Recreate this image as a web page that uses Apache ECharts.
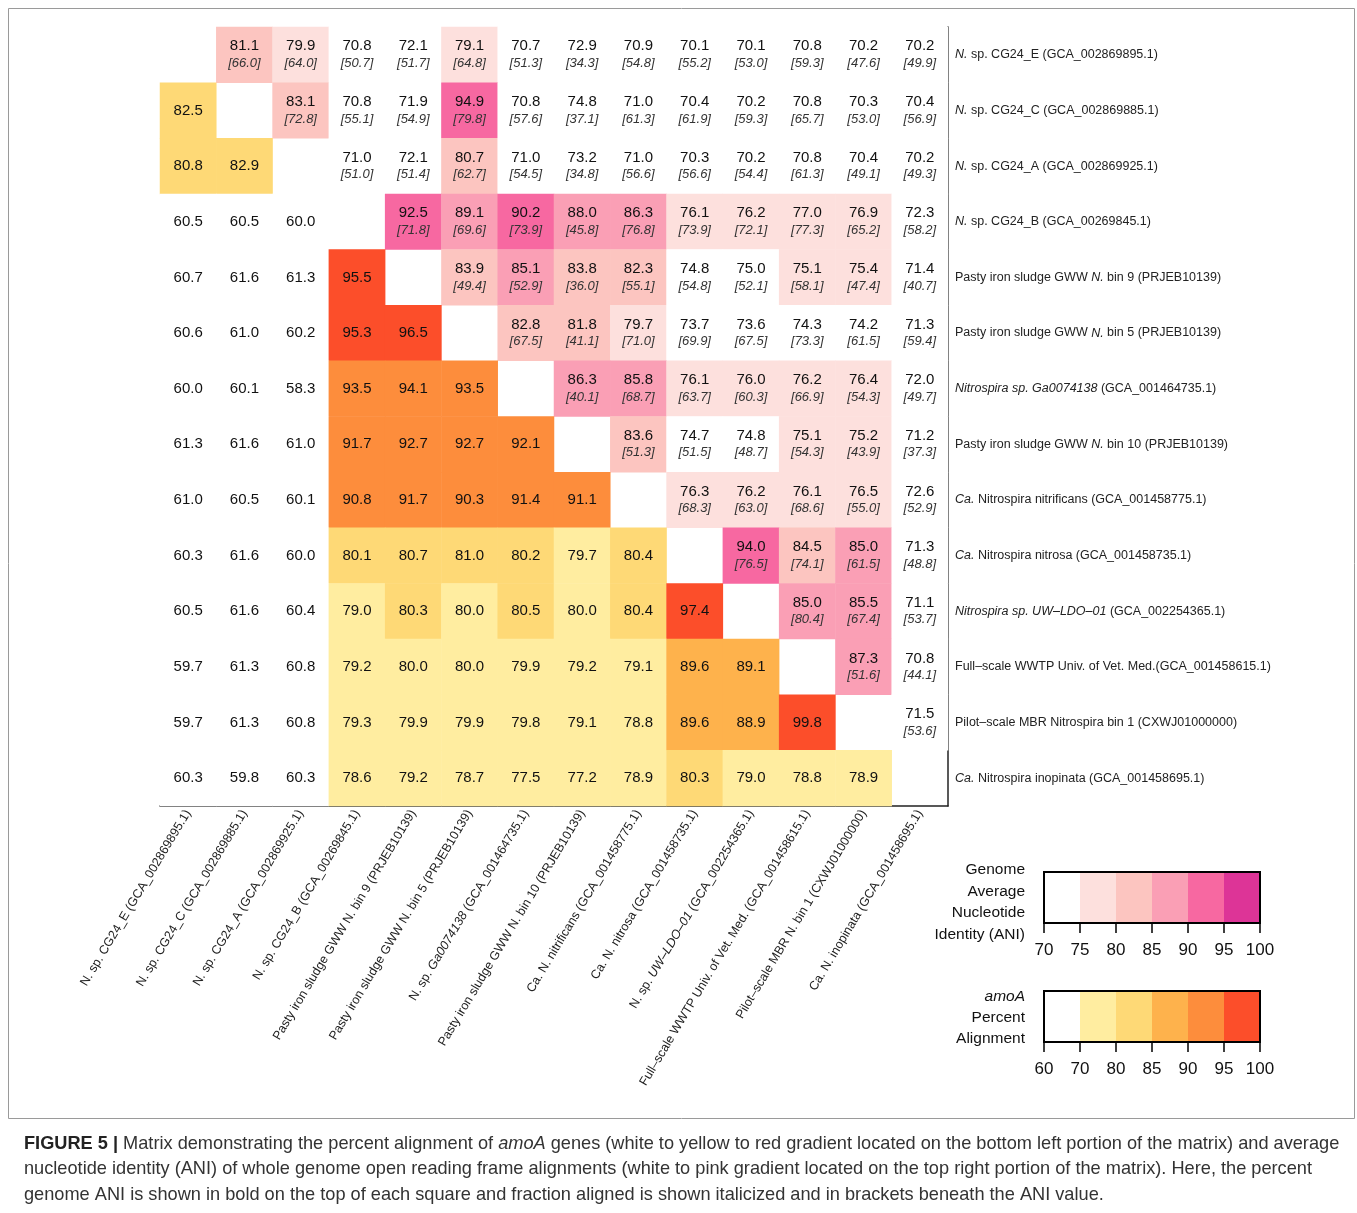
<!DOCTYPE html>
<html>
<head>
<meta charset="utf-8">
<script src="https://cdn.jsdelivr.net/npm/echarts@6/dist/echarts.min.js"></script>
<style>
  html, body { margin: 0; padding: 0; background: #fff; }
  #main { width: 1357px; height: 1213px; }
</style>
</head>
<body>
<div id="main"></div>
<script>
// NOTE - Genome names, same order for rows (top to bottom) and columns (left to right)

const rowNames = [
  '{i|N.} sp. CG24_E (GCA_002869895.1)',
  '{i|N.} sp. CG24_C (GCA_002869885.1)',
  '{i|N.} sp. CG24_A (GCA_002869925.1)',
  '{i|N.} sp. CG24_B (GCA_00269845.1)',
  'Pasty iron sludge GWW {i|N.} bin 9 (PRJEB10139)',
  'Pasty iron sludge GWW {i|N.} bin 5 (PRJEB10139)',
  '{i|Nitrospira sp. Ga0074138} (GCA_001464735.1)',
  'Pasty iron sludge GWW {i|N.} bin 10 (PRJEB10139)',
  '{i|Ca.} Nitrospira nitrificans (GCA_001458775.1)',
  '{i|Ca.} Nitrospira nitrosa (GCA_001458735.1)',
  '{i|Nitrospira sp. UW\u2013LDO\u201301} (GCA_002254365.1)',
  'Full\u2013scale WWTP Univ. of Vet. Med.(GCA_001458615.1)',
  'Pilot\u2013scale MBR Nitrospira bin 1 (CXWJ01000000)',
  '{i|Ca.} Nitrospira inopinata (GCA_001458695.1)'
];

const colNames = [
  'N. sp. CG24_E (GCA_002869895.1)',
  'N. sp. CG24_C (GCA_002869885.1)',
  'N. sp. CG24_A (GCA_002869925.1)',
  'N. sp. CG24_B (GCA_00269845.1)',
  'Pasty iron sludge GWW N. bin 9 (PRJEB10139)',
  'Pasty iron sludge GWW N. bin 5 (PRJEB10139)',
  'N. sp. {i|Ga0074138} (GCA_001464735.1)',
  'Pasty iron sludge GWW N. bin 10 (PRJEB10139)',
  'Ca. N. nitrificans (GCA_001458775.1)',
  'Ca. N. nitrosa (GCA_001458735.1)',
  'N. sp. {i|UW\u2013LDO\u201301} (GCA_002254365.1)',
  'Full\u2013scale WWTP Univ. of Vet. Med. (GCA_001458615.1)',
  'Pilot\u2013scale MBR N. bin 1 (CXWJ01000000)',
  'Ca. N. inopinata (GCA_001458695.1)'
];

// NOTE - ANI (upper right), each row lists the columns right of the diagonal

const aniRows = [
  [81.1, 79.9, 70.8, 72.1, 79.1, 70.7, 72.9, 70.9, 70.1, 70.1, 70.8, 70.2, 70.2],
  [83.1, 70.8, 71.9, 94.9, 70.8, 74.8, 71.0, 70.4, 70.2, 70.8, 70.3, 70.4],
  [71.0, 72.1, 80.7, 71.0, 73.2, 71.0, 70.3, 70.2, 70.8, 70.4, 70.2],
  [92.5, 89.1, 90.2, 88.0, 86.3, 76.1, 76.2, 77.0, 76.9, 72.3],
  [83.9, 85.1, 83.8, 82.3, 74.8, 75.0, 75.1, 75.4, 71.4],
  [82.8, 81.8, 79.7, 73.7, 73.6, 74.3, 74.2, 71.3],
  [86.3, 85.8, 76.1, 76.0, 76.2, 76.4, 72.0],
  [83.6, 74.7, 74.8, 75.1, 75.2, 71.2],
  [76.3, 76.2, 76.1, 76.5, 72.6],
  [94.0, 84.5, 85.0, 71.3],
  [85.0, 85.5, 71.1],
  [87.3, 70.8],
  [71.5],
  []
];

// fraction aligned, shown in brackets under the ANI value
const fracRows = [
  [66.0, 64.0, 50.7, 51.7, 64.8, 51.3, 34.3, 54.8, 55.2, 53.0, 59.3, 47.6, 49.9],
  [72.8, 55.1, 54.9, 79.8, 57.6, 37.1, 61.3, 61.9, 59.3, 65.7, 53.0, 56.9],
  [51.0, 51.4, 62.7, 54.5, 34.8, 56.6, 56.6, 54.4, 61.3, 49.1, 49.3],
  [71.8, 69.6, 73.9, 45.8, 76.8, 73.9, 72.1, 77.3, 65.2, 58.2],
  [49.4, 52.9, 36.0, 55.1, 54.8, 52.1, 58.1, 47.4, 40.7],
  [67.5, 41.1, 71.0, 69.9, 67.5, 73.3, 61.5, 59.4],
  [40.1, 68.7, 63.7, 60.3, 66.9, 54.3, 49.7],
  [51.3, 51.5, 48.7, 54.3, 43.9, 37.3],
  [68.3, 63.0, 68.6, 55.0, 52.9],
  [76.5, 74.1, 61.5, 48.8],
  [80.4, 67.4, 53.7],
  [51.6, 44.1],
  [53.6],
  []
];

// NOTE - amoA percent alignment (lower left), each row lists the columns left of the diagonal

const amoaRows = [
  [],
  [82.5],
  [80.8, 82.9],
  [60.5, 60.5, 60.0],
  [60.7, 61.6, 61.3, 95.5],
  [60.6, 61.0, 60.2, 95.3, 96.5],
  [60.0, 60.1, 58.3, 93.5, 94.1, 93.5],
  [61.3, 61.6, 61.0, 91.7, 92.7, 92.7, 92.1],
  [61.0, 60.5, 60.1, 90.8, 91.7, 90.3, 91.4, 91.1],
  [60.3, 61.6, 60.0, 80.1, 80.7, 81.0, 80.2, 79.7, 80.4],
  [60.5, 61.6, 60.4, 79.0, 80.3, 80.0, 80.5, 80.0, 80.4, 97.4],
  [59.7, 61.3, 60.8, 79.2, 80.0, 80.0, 79.9, 79.2, 79.1, 89.6, 89.1],
  [59.7, 61.3, 60.8, 79.3, 79.9, 79.9, 79.8, 79.1, 78.8, 89.6, 88.9, 99.8],
  [60.3, 59.8, 60.3, 78.6, 79.2, 78.7, 77.5, 77.2, 78.9, 80.3, 79.0, 78.8, 78.9]
];

// NOTE - Colour scales (legend tick labels and bin colours)

const aniBreaks = [70, 75, 80, 85, 90, 95, 100];
const amoaBreaks = [60, 70, 80, 85, 90, 95, 100];
const aniColors = ['#ffffff', '#fde0dd', '#fcc5c0', '#fa9fb5', '#f768a1', '#dd3497'];
const amoaColors = ['#ffffff', '#ffeda0', '#fed976', '#feb24c', '#fd8d3c', '#fc4e2a'];

// NOTE - Build heatmap data

var aniData = [];
aniRows.forEach(function (row, i) {
  row.forEach(function (v, k) {
    aniData.push({ value: [i + 1 + k, i, v], frac: fracRows[i][k] });
  });
});

var amoaData = [];
amoaRows.forEach(function (row, i) {
  row.forEach(function (v, j) {
    amoaData.push([j, i, v]);
  });
});

function legendBar(colors) {
  return function (params, api) {
    var p0 = api.coord([api.value(0), 1]);
    var p1 = api.coord([api.value(1), 0]);
    return {
      type: 'rect',
      shape: { x: p0[0], y: p0[1], width: p1[0] - p0[0], height: p1[1] - p0[1] },
      style: { fill: colors[params.dataIndex] }
    };
  };
}

var FONT = '"Liberation Sans", Arial, sans-serif';
var axisBlack = { color: '#222', width: 1.5 };

var myChart = echarts.init(document.getElementById('main'));

var option = {
  backgroundColor: '#fff',
  textStyle: { fontFamily: FONT },
  animation: false,
  grid: [
    { left: 160, top: 27, width: 788, height: 779 },
    { left: 1044, top: 872, width: 216, height: 51, show: true, z: 10,
      borderColor: '#000', borderWidth: 2, backgroundColor: 'transparent' },
    { left: 1044, top: 991, width: 216, height: 51, show: true, z: 10,
      borderColor: '#000', borderWidth: 2, backgroundColor: 'transparent' }
  ],
  xAxis: [
    {
      type: 'category', gridIndex: 0, data: colNames, position: 'bottom',
      axisLine: { lineStyle: axisBlack },
      axisTick: { alignWithLabel: true, length: 6, lineStyle: axisBlack },
      axisLabel: {
        interval: 0, rotate: 59, margin: 5, fontSize: 12.5, color: '#222', fontFamily: FONT,
        rich: { i: { fontStyle: 'italic', fontSize: 12.5, color: '#222', fontFamily: FONT } }
      },
      splitLine: { show: false }
    },
    {
      type: 'value', gridIndex: 1, min: 0, max: 6, interval: 1,
      axisLine: { lineStyle: { color: '#000', width: 2 } },
      axisTick: { length: 10, lineStyle: { color: '#000', width: 1.5 } },
      axisLabel: { margin: 19, fontSize: 17, color: '#111', formatter: function (v) { return aniBreaks[v]; } },
      splitLine: { show: false }
    },
    {
      type: 'value', gridIndex: 2, min: 0, max: 6, interval: 1,
      axisLine: { lineStyle: { color: '#000', width: 2 } },
      axisTick: { length: 10, lineStyle: { color: '#000', width: 1.5 } },
      axisLabel: { margin: 19, fontSize: 17, color: '#111', formatter: function (v) { return amoaBreaks[v]; } },
      splitLine: { show: false }
    }
  ],
  yAxis: [
    {
      type: 'category', gridIndex: 0, data: rowNames, position: 'right', inverse: true,
      axisLine: { lineStyle: axisBlack },
      axisTick: { alignWithLabel: true, length: 5, lineStyle: axisBlack },
      axisLabel: {
        margin: 7, fontSize: 12.5, color: '#222', fontFamily: FONT,
        rich: { i: { fontStyle: 'italic', fontSize: 12.5, color: '#222', fontFamily: FONT } }
      },
      splitLine: { show: false }
    },
    { type: 'value', gridIndex: 1, min: 0, max: 1, show: false },
    { type: 'value', gridIndex: 2, min: 0, max: 1, show: false }
  ],
  visualMap: [
    {
      type: 'piecewise', show: false, seriesIndex: 0, dimension: 2,
      pieces: [
        { lte: 75, color: aniColors[0] },
        { gt: 75, lte: 80, color: aniColors[1] },
        { gt: 80, lt: 85, color: aniColors[2] },
        { gte: 85, lt: 90, color: aniColors[3] },
        { gte: 90, lt: 95, color: aniColors[4] },
        { gte: 95, color: aniColors[5] }
      ]
    },
    {
      type: 'piecewise', show: false, seriesIndex: 1, dimension: 2,
      pieces: [
        { lte: 70, color: amoaColors[0] },
        { gt: 70, lte: 80, color: amoaColors[1] },
        { gt: 80, lte: 85, color: amoaColors[2] },
        { gt: 85, lte: 90, color: amoaColors[3] },
        { gt: 90, lte: 95, color: amoaColors[4] },
        { gt: 95, color: amoaColors[5] }
      ]
    }
  ],
  series: [
    {
      name: 'ANI', type: 'heatmap', xAxisIndex: 0, yAxisIndex: 0, data: aniData,
      emphasis: { disabled: true },
      label: {
        show: true,
        formatter: function (p) {
          return '{v|' + p.value[2].toFixed(1) + '}\n{f|[' + p.data.frac.toFixed(1) + ']}';
        },
        rich: {
          v: { fontSize: 15, color: '#111', lineHeight: 17, fontFamily: FONT },
          f: { fontSize: 13, color: '#333', fontStyle: 'italic', lineHeight: 17, fontFamily: FONT }
        }
      }
    },
    {
      name: 'amoA', type: 'heatmap', xAxisIndex: 0, yAxisIndex: 0, data: amoaData,
      emphasis: { disabled: true },
      label: {
        show: true, fontSize: 15, color: '#111', fontFamily: FONT,
        formatter: function (p) { return p.value[2].toFixed(1); }
      }
    },
    {
      type: 'custom', xAxisIndex: 1, yAxisIndex: 1, silent: true,
      renderItem: legendBar(aniColors),
      data: aniColors.map(function (c, k) { return [k, k + 1]; })
    },
    {
      type: 'custom', xAxisIndex: 2, yAxisIndex: 2, silent: true,
      renderItem: legendBar(amoaColors),
      data: amoaColors.map(function (c, k) { return [k, k + 1]; })
    }
  ],
  graphic: [
    {
      type: 'rect', z: -1, silent: true,
      shape: { x: 8.5, y: 8.5, width: 1346, height: 1110 },
      style: { fill: 'none', stroke: '#9a9a9a', lineWidth: 1 }
    },
    {
      type: 'text', x: 1025, y: 859,
      style: {
        text: 'Genome\nAverage\nNucleotide\nIdentity (ANI)',
        font: '15.5px ' + FONT, fill: '#111', align: 'right', verticalAlign: 'top', lineHeight: 21.5
      }
    },
    {
      type: 'text', x: 1025, y: 986,
      style: {
        text: '{i|amoA}\nPercent\nAlignment',
        font: '15.5px ' + FONT, fill: '#111', align: 'right', verticalAlign: 'top', lineHeight: 21,
        rich: { i: { fontStyle: 'italic', fontSize: 15.5, fontFamily: FONT, fill: '#111', lineHeight: 21 } }
      }
    },
    {
      type: 'text', x: 24, y: 1131,
      style: {
        text: '{b|FIGURE 5 |} Matrix demonstrating the percent alignment of {i|amoA} genes (white to yellow to red gradient located on the bottom left portion of the matrix) and average\n' +
              'nucleotide identity (ANI) of whole genome open reading frame alignments (white to pink gradient located on the top right portion of the matrix). Here, the percent\n' +
              'genome ANI is shown in bold on the top of each square and fraction aligned is shown italicized and in brackets beneath the ANI value.',
        font: '18.2px ' + FONT, fill: '#333', verticalAlign: 'top', lineHeight: 25.5,
        rich: {
          b: { fontWeight: 'bold', fontSize: 18.2, fontFamily: FONT, fill: '#222', lineHeight: 25.5 },
          i: { fontStyle: 'italic', fontSize: 18.2, fontFamily: FONT, fill: '#333', lineHeight: 25.5 }
        }
      }
    }
  ]
};

myChart.setOption(option);
</script>
</body>
</html>
